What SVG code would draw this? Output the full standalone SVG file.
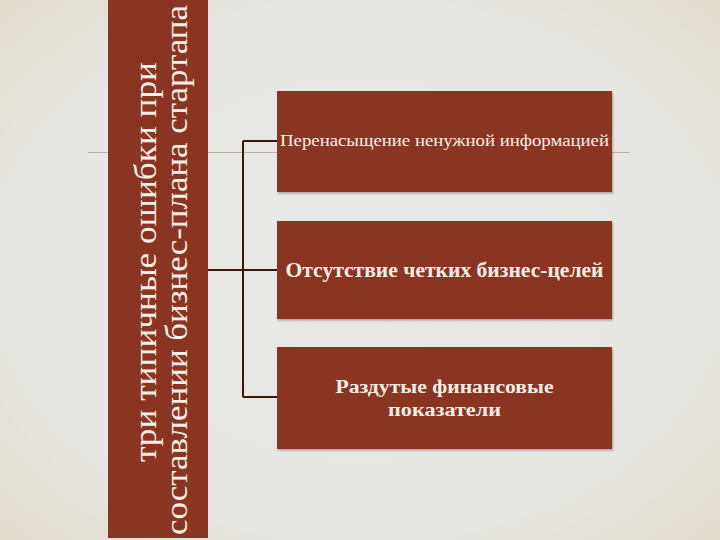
<svg xmlns="http://www.w3.org/2000/svg" width="720" height="540" viewBox="0 0 720 540">
<defs>
<radialGradient id="bg" cx="0.5" cy="0.5" r="0.7">
<stop offset="0" stop-color="#e9e9e8"/>
<stop offset="0.7" stop-color="#e6e6e3"/>
<stop offset="1" stop-color="#e0dccb"/>
</radialGradient>
<filter id="sh" x="-5%" y="-5%" width="110%" height="115%">
<feDropShadow dx="1" dy="1.5" stdDeviation="1.2" flood-color="#000" flood-opacity="0.3"/>
</filter>
<style>
.box{fill:#8a3522;}
.t{font-family:"Liberation Serif","DejaVu Serif",serif;fill:#f8efe4;text-anchor:middle;}
.c{stroke:#3a180c;stroke-width:2;fill:none;}
</style>
</defs>
<rect width="720" height="540" fill="url(#bg)"/>
<line x1="88" y1="152.5" x2="630" y2="152.5" stroke="#bfae9c" stroke-width="1.2"/>
<g id="title">
<rect class="box" x="108" y="0" width="100" height="538"/>
<text class="t" font-size="32" textLength="400" lengthAdjust="spacingAndGlyphs" transform="translate(156 262) rotate(-90)">три типичные ошибки при</text>
<text class="t" font-size="32" textLength="530" lengthAdjust="spacingAndGlyphs" transform="translate(187 270) rotate(-90)">составлении бизнес-плана стартапа</text>
</g>
<g id="connectors">
<path class="c" d="M208 270 H243 M243 141 V397 M243 141 H277 M243 270 H277 M243 397 H277"/>
</g>
<g id="n1">
<rect class="box" x="277" y="91" width="335" height="101" filter="url(#sh)"/>
<text class="t" font-size="16" x="444.5" y="146" textLength="329" lengthAdjust="spacingAndGlyphs">Перенасыщение ненужной информацией</text>
</g>
<g id="n2">
<rect class="box" x="277" y="221" width="335" height="98" filter="url(#sh)"/>
<text class="t" font-size="20" font-weight="bold" x="444.5" y="277" textLength="318" lengthAdjust="spacingAndGlyphs">Отсутствие четких бизнес-целей</text>
</g>
<g id="n3">
<rect class="box" x="277" y="347" width="335" height="102" filter="url(#sh)"/>
<text class="t" font-size="18" font-weight="bold" x="444.5" y="393" textLength="218" lengthAdjust="spacingAndGlyphs">Раздутые финансовые</text>
<text class="t" font-size="18" font-weight="bold" x="444.5" y="416" textLength="113" lengthAdjust="spacingAndGlyphs">показатели</text>
</g>
</svg>
